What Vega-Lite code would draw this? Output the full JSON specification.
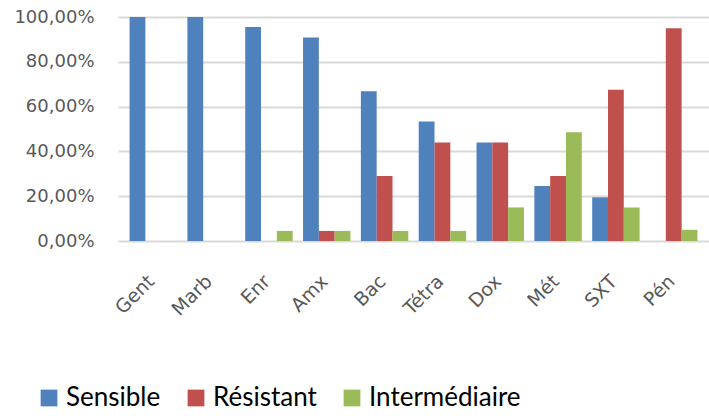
{
  "$schema": "https://vega.github.io/schema/vega-lite/v6.json",
  "width": 591,
  "height": 224,
  "autosize": {"type": "none"},
  "padding": {"left": 118, "top": 17, "right": 0, "bottom": 178},
  "background": "white",
  "config": {
    "locale": {"number": {"decimal": ",", "thousands": " ", "grouping": [3], "currency": ["", " €"]}},
    "view": {"stroke": null},
    "font": "DejaVu Sans"
  },
  "data": {
    "values": [
      {"drug": "Gent", "type": "Sensible", "value": 1.0},
      {"drug": "Gent", "type": "Résistant", "value": 0},
      {"drug": "Gent", "type": "Intermédiaire", "value": 0},
      {"drug": "Marb", "type": "Sensible", "value": 1.0},
      {"drug": "Marb", "type": "Résistant", "value": 0},
      {"drug": "Marb", "type": "Intermédiaire", "value": 0},
      {"drug": "Enr", "type": "Sensible", "value": 0.955},
      {"drug": "Enr", "type": "Résistant", "value": 0},
      {"drug": "Enr", "type": "Intermédiaire", "value": 0.045},
      {"drug": "Amx", "type": "Sensible", "value": 0.909},
      {"drug": "Amx", "type": "Résistant", "value": 0.045},
      {"drug": "Amx", "type": "Intermédiaire", "value": 0.045},
      {"drug": "Bac", "type": "Sensible", "value": 0.668},
      {"drug": "Bac", "type": "Résistant", "value": 0.29},
      {"drug": "Bac", "type": "Intermédiaire", "value": 0.045},
      {"drug": "Tétra", "type": "Sensible", "value": 0.533},
      {"drug": "Tétra", "type": "Résistant", "value": 0.44},
      {"drug": "Tétra", "type": "Intermédiaire", "value": 0.045},
      {"drug": "Dox", "type": "Sensible", "value": 0.44},
      {"drug": "Dox", "type": "Résistant", "value": 0.44},
      {"drug": "Dox", "type": "Intermédiaire", "value": 0.15},
      {"drug": "Mét", "type": "Sensible", "value": 0.245},
      {"drug": "Mét", "type": "Résistant", "value": 0.29},
      {"drug": "Mét", "type": "Intermédiaire", "value": 0.485},
      {"drug": "SXT", "type": "Sensible", "value": 0.195},
      {"drug": "SXT", "type": "Résistant", "value": 0.675},
      {"drug": "SXT", "type": "Intermédiaire", "value": 0.15},
      {"drug": "Pén", "type": "Sensible", "value": 0.0},
      {"drug": "Pén", "type": "Résistant", "value": 0.95},
      {"drug": "Pén", "type": "Intermédiaire", "value": 0.05}
    ]
  },
  "mark": {"type": "bar"},
  "encoding": {
    "x": {
      "field": "drug",
      "type": "nominal",
      "sort": null,
      "scale": {"paddingInner": 0.18, "paddingOuter": 0.2},
      "axis": {
        "title": null,
        "labelAngle": -45,
        "labelAlign": "right",
        "labelBaseline": "middle",
        "labelFontSize": 19,
        "labelColor": "#595959",
        "labelPadding": 37,
        "labelOffset": -2,
        "domain": false,
        "ticks": false
      }
    },
    "xOffset": {"field": "type", "type": "nominal", "sort": ["Sensible", "Résistant", "Intermédiaire"]},
    "y": {
      "field": "value",
      "type": "quantitative",
      "scale": {"domain": [0, 1], "nice": false},
      "axis": {
        "title": null,
        "format": ".2%",
        "values": [0, 0.2, 0.4, 0.6, 0.8, 1.0],
        "labelFontSize": 18,
        "labelColor": "#595959",
        "labelPadding": 24,
        "domain": false,
        "ticks": false,
        "gridColor": "#d9d9d9",
        "gridWidth": 2
      }
    },
    "color": {
      "field": "type",
      "type": "nominal",
      "sort": ["Sensible", "Résistant", "Intermédiaire"],
      "scale": {"domain": ["Sensible", "Résistant", "Intermédiaire"], "range": ["#4F81BD", "#C0504D", "#9BBB59"]},
      "legend": {
        "title": null,
        "orient": "none",
        "direction": "horizontal",
        "columns": 3,
        "legendX": -82,
        "legendY": 368,
        "symbolType": "square",
        "symbolSize": 280,
        "symbolStrokeWidth": 0,
        "labelFont": "Lato",
        "labelFontSize": 26,
        "labelColor": "#000000",
        "labelOffset": 4,
        "columnPadding": 22,
        "labelLimit": 400
      }
    }
  }
}
